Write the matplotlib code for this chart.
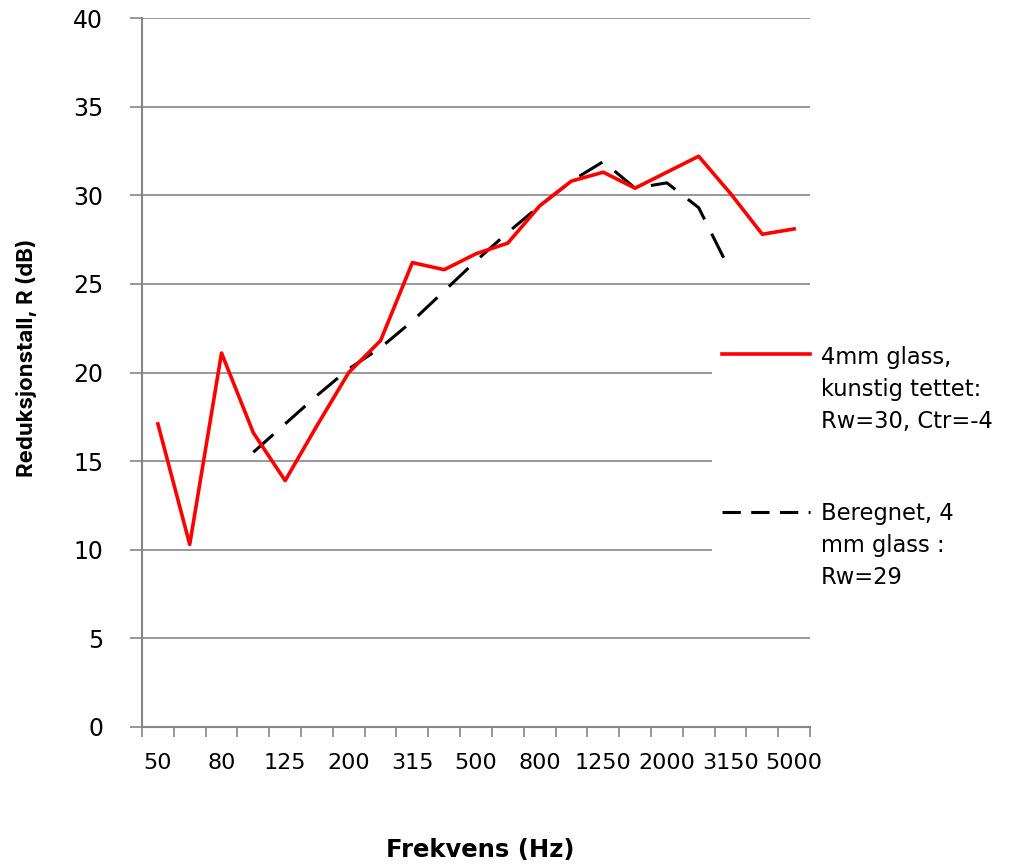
import matplotlib
matplotlib.use("Agg")
import matplotlib.pyplot as plt
import numpy as np
from matplotlib.lines import Line2D
from matplotlib.patches import Rectangle

# third-octave bands (Hz)
freqs = ['50', '63', '80', '100', '125', '160', '200', '250', '315', '400', '500',
         '630', '800', '1000', '1250', '1600', '2000', '2500', '3150', '4000', '5000']

# measured, 4mm glass artificially sealed
r_measured = [17.1, 10.3, 21.1, 16.6, 13.9, 17.0, 20.0, 21.8, 26.2, 25.8, 26.7,
              27.3, 29.4, 30.8, 31.3, 30.4, 31.3, 32.2, 30.1, 27.8, 28.1]

# calculated, 4mm glass
r_calc = [np.nan, np.nan, np.nan, 15.5, 17.1, 18.7, 20.2, 21.4, 22.9, 24.6, 26.3,
          27.9, 29.4, 30.8, 31.9, 30.4, 30.7, 29.3, 25.7, np.nan, np.nan]

labels = ['4mm glass,\nkunstig tettet:\nRw=30, Ctr=-4',
          'Beregnet, 4\nmm glass :\nRw=29']

yticks = [0, 5, 10, 15, 20, 25, 30, 35, 40]

W, H = 1021, 866
plt.rcParams['font.family'] = ['DejaVu Sans']
fig = plt.figure(figsize=(W / 100, H / 100), dpi=100)
ax = fig.add_axes([142 / W, 1 - 727 / H, 668 / W, 709 / H])

grey = '#868686'
x = np.arange(len(freqs))

l1, = ax.plot(x, r_measured, color='#ff0000', lw=2.6, zorder=4)
l2, = ax.plot(x, r_calc, color='black', lw=2.2, dashes=(8.8, 5.2), zorder=3)

ax.set_xlim(-0.5, len(freqs) - 0.5)
ax.set_ylim(0, 40)
ax.set_yticks(yticks)
ax.set_yticklabels([str(v) for v in yticks], fontsize=17)
ax.yaxis.grid(True, color=grey, lw=1.2)
ax.set_axisbelow(True)

ax.set_xticks(x[::2])
ax.set_xticklabels(freqs[::2], fontsize=16)
ax.set_xticks(np.arange(-0.5, len(freqs)), minor=True)
ax.tick_params(axis='x', which='major', length=0, pad=19)
ax.tick_params(axis='x', which='minor', length=7, width=1.2, color=grey)
ax.tick_params(axis='y', length=9, width=1.2, color=grey, pad=19)

for s in ['top', 'right']:
    ax.spines[s].set_visible(False)
for s in ['left', 'bottom']:
    ax.spines[s].set_color(grey)
    ax.spines[s].set_linewidth(1.5)

ax.set_ylabel('Reduksjonstall, R (dB)', fontsize=16, fontweight='bold',
              family=['Inter', 'DejaVu Sans'])
ax.yaxis.set_label_coords((27 - 142) / 668, (727 - 358) / 709)
ax.yaxis.label.set_va('center')
ax.set_xlabel('Frekvens (Hz)', fontsize=17.5, fontweight='bold')
ax.xaxis.set_label_coords((480 - 142) / 668, (727 - 850) / 709)
ax.xaxis.label.set_va('center')

# legend drawn Excel-style: handle aligned with first text line
fig.add_artist(Rectangle((712 / W, 1 - 615 / H), (W - 712) / W, 280 / H,
                         transform=fig.transFigure, facecolor='white',
                         edgecolor='none', zorder=5))
# ypx: handle position, base: baseline of the last text line
for line, lab, ypx, base in zip([l1, l2], labels, [354, 512], [428, 584]):
    yf = 1 - ypx / H
    h = Line2D([722 / W, 810 / W], [yf, yf], transform=fig.transFigure,
               color=line.get_color(), lw=line.get_linewidth(), zorder=6)
    if line is l2:
        h.set_dashes((6, 3.4))
    fig.add_artist(h)
    fig.text(821 / W, 1 - base / H, lab, fontsize=16.3, va='baseline', ha='left',
             linespacing=1.5, zorder=6, transform=fig.transFigure)

fig.savefig('out.png', dpi=100)
